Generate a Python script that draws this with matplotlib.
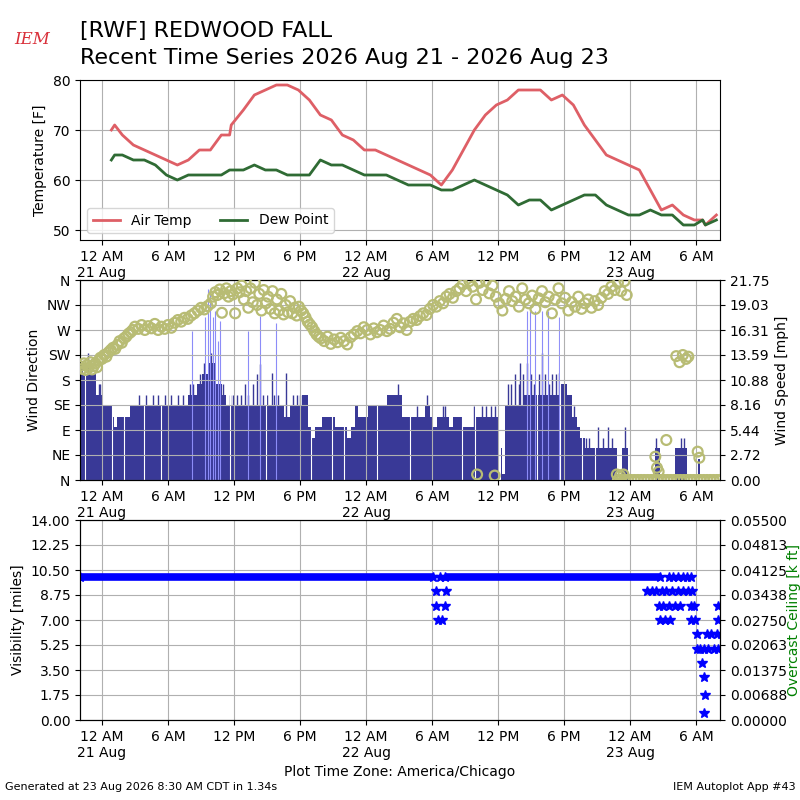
import numpy as np
import matplotlib
matplotlib.use("Agg")
import matplotlib.pyplot as plt
import matplotlib.dates as mdates
from matplotlib.ticker import FuncFormatter, FixedLocator
from datetime import datetime

# hours are counted from 21 Aug 2026 00:00 local time
start_day = datetime(2026, 8, 21)
x_first, x_last = -2.0, 56.18

# temperature / dew point (F)
temp_hours = [0.85, 1.15, 1.85, 2.85, 3.85, 4.85, 5.85, 6.85, 7.85, 8.85, 9.85, 10.85, 11.6, 11.75,
              12.85, 13.85, 14.85, 15.85, 16.85, 17.85, 18.85, 19.85, 20.85, 21.85, 22.85, 23.85,
              24.85, 25.85, 26.85, 27.85, 28.85, 29.85, 30.85, 31.85, 32.85, 33.85, 34.85, 35.85,
              36.85, 37.85, 38.85, 39.85, 40.85, 41.85, 42.85, 43.85, 44.85, 45.85, 46.85, 47.85,
              48.85, 49.85, 50.85, 51.85, 52.85, 53.85, 54.6, 54.85, 55.85]
air_temp = [70, 71, 69, 67, 66, 65, 64, 63, 64, 66, 66, 69, 69, 71,
            74, 77, 78, 79, 79, 78, 76, 73, 72, 69, 68, 66,
            66, 65, 64, 63, 62, 61, 59, 62, 66, 70, 73, 75,
            76, 78, 78, 78, 76, 77, 75, 71, 68, 65, 64, 63,
            62, 58, 54, 55, 53, 52, 52, 51, 53]
dew_point = [64, 65, 65, 64, 64, 63, 61, 60, 61, 61, 61, 61, 62, 62,
             62, 63, 62, 62, 61, 61, 61, 64, 63, 63, 62, 61,
             61, 61, 60, 59, 59, 59, 58, 58, 59, 60, 59, 58,
             57, 55, 56, 56, 54, 55, 56, 57, 57, 55, 54, 53,
             53, 54, 53, 53, 51, 51, 52, 51, 52]

# wind direction (deg)
dir_hours = [-2.0, -1.8, -1.65, -1.5, -1.35, -1.2, -1.05, -0.9, -0.75, -0.6, -0.45, -0.3, -0.15,
             0.0, 0.2, 0.4, 0.6, 0.8, 1.0, 1.2, 1.4, 1.6, 1.8, 2.0, 2.2, 2.4, 2.6, 2.8,
             3.0, 3.3, 3.6, 3.9, 4.2, 4.5, 4.8, 5.1, 5.4, 5.7, 6.0, 6.3,
             6.6, 6.9, 7.2, 7.5, 7.8, 8.1, 8.4, 8.7, 9.0, 9.3, 9.6, 9.9,
             10.1, 10.3, 10.5, 10.7, 10.9, 11.1, 11.3, 11.5, 11.7, 11.9, 12.1, 12.3, 12.5,
             12.7, 12.9, 13.1, 13.3, 13.5, 13.7, 13.9, 14.1, 14.3, 14.5, 14.7, 14.9, 15.1, 15.3,
             15.5, 15.7, 15.9, 16.1, 16.3, 16.5, 16.7, 16.9, 17.1, 17.3, 17.5, 17.7, 17.9,
             18.1, 18.3, 18.5, 18.7, 18.9, 19.1, 19.3, 19.5, 19.7,
             19.9, 20.2, 20.5, 20.8, 21.1, 21.4, 21.7, 22.0, 22.3, 22.6, 22.9,
             23.2, 23.5, 23.8, 24.1, 24.4, 24.7, 25.0, 25.3, 25.6, 25.9, 26.2, 26.5,
             26.8, 27.1, 27.4, 27.7, 28.0, 28.3, 28.6, 28.9, 29.2, 29.5,
             29.8, 30.1, 30.4, 30.7, 31.0, 31.3, 31.6, 31.9, 32.2,
             32.5, 32.8, 33.1, 33.4, 33.7, 34.0, 34.3, 34.6, 34.9, 35.2, 35.5, 34.1, 35.7,
             35.8, 36.1, 36.4, 36.7, 37.0, 37.3, 37.6, 37.9, 38.2, 38.5, 38.8, 39.1, 39.4,
             39.7, 40.0, 40.3, 40.6, 40.9, 41.2, 41.5, 41.8,
             42.1, 42.4, 42.7, 43.0, 43.3, 43.6, 43.9, 44.2, 44.5, 44.8, 45.1, 45.4,
             45.7, 46.0, 46.3, 46.6, 46.9, 47.2, 47.5, 47.7, 46.8, 47.1, 47.4,
             50.3, 50.45, 50.6, 51.3, 52.2, 52.5, 52.8, 53.1, 53.3, 54.15, 54.3]
dir_deg = [205, 200, 210, 198, 207, 202, 212, 199, 205, 210, 203, 215, 220,
           218, 225, 222, 230, 234, 238, 236, 243, 250, 247, 255, 258, 263, 266, 270,
           276, 272, 279, 270, 277, 273, 281, 270, 276, 272, 279, 274,
           283, 288, 285, 292, 290, 296, 300, 305, 310, 307, 313, 318,
           330, 338, 333, 343, 301, 336, 345, 330, 340, 334, 300, 345, 338,
           350, 325, 340, 310, 345, 320, 355, 315, 335, 305, 342, 318, 330, 308,
           340, 300, 325, 305, 335, 298, 315, 302, 322, 300, 310, 296, 312,
           305, 300, 293, 285, 280, 275, 268, 262, 258,
           255, 250, 258, 245, 253, 248, 256, 250, 244, 257, 262,
           268, 264, 275, 270, 262, 273, 266, 270, 278, 268, 272, 283,
           290, 275, 282, 270, 285, 290, 288, 295, 300, 297,
           308, 315, 312, 322, 318, 330, 335, 328, 340,
           345, 352, 340, 358, 348, 325, 355, 342, 359, 336, 350, 10, 8,
           330, 318, 305, 326, 340, 322, 330, 312, 345, 325, 318, 332, 308,
           327, 340, 320, 330, 300, 325, 345, 318,
           328, 305, 320, 312, 330, 308, 318, 325, 310, 322, 315, 328,
           340, 335, 348, 342, 355, 340, 358, 333, 10, 8, 10,
           42, 22, 15, 72, 223, 212, 225, 218, 222, 51, 40]
calm_hours = [46.9, 47.2, 47.5, 47.8, 48.1, 48.4, 48.7, 49.0, 49.3, 49.6, 49.9, 50.2, 50.5,
              50.8, 51.1, 51.4, 51.7, 52.0, 52.3, 52.6, 52.9, 53.2, 53.5, 53.8, 54.1, 54.4,
              54.7, 55.0, 55.3, 55.6, 55.9, 56.2]

# wind speed (mph), each value holds until the next start hour
speed_start = [-1.95, -1.7, -0.57, 0.0, 0.9, 1.1, 1.35, 2.5, 7.8, 8.6, 9.1, 9.6, 10.3, 10.9,
               11.3, 16.5, 17.1, 18.15, 18.7, 18.97, 19.4, 19.97, 21.2, 21.94, 22.3, 22.6,
               23.0, 23.3, 24.2, 25.9, 27.24, 29.36, 29.8, 30.06, 30.42, 31.5, 31.9, 32.7,
               33.9, 36.0, 36.25, 36.4, 36.6, 38.3, 41.2, 41.5, 42.3, 42.7, 43.15, 43.45,
               43.9, 46.8, 47.24, 47.8, 50.27, 50.7, 52.09, 53.15, 54.15, 54.36]
speed_mph = [12.7, 11.5, 9.2, 8.1, 6.9, 5.8, 6.9, 8.1, 9.2, 10.4, 11.5, 12.7, 10.4, 9.2,
             8.1, 6.9, 8.1, 9.2, 5.8, 4.6, 5.8, 6.9, 5.8, 5.8, 4.6, 5.8,
             8.1, 6.9, 8.1, 9.2, 6.9, 8.1, 6.9, 5.8, 6.9, 5.8, 6.9, 5.8,
             6.9, 0.0, 3.5, 0.6, 8.1, 9.2, 9.2, 10.4, 9.2, 6.9, 5.8, 4.6,
             3.5, 0.0, 3.5, 0.0, 3.5, 0.0, 3.5, 0.0, 2.3, 0.0]
spike_hours = [-1.3, -0.3, -0.15, 3.4, 4.0, 4.6, 5.1, 5.7, 6.3, 6.9, 7.4, 8.0, 8.3, 8.9, 9.3,
               9.9, 11.0, 11.6, 11.9, 12.3, 12.6, 13.0, 13.3, 13.7, 14.06, 14.36, 14.6, 15.0,
               15.42, 15.6, 16.0, 16.73, 17.4, 17.7, 18.0, 26.9, 28.6, 29.5, 31.0, 31.2, 33.8,
               34.5, 34.9, 35.4, 35.7, 36.9, 37.2, 37.5, 37.9, 38.0, 38.3, 38.6, 39.0, 39.3,
               39.7, 40.0, 40.3, 40.6, 40.9, 41.3, 41.5, 42.0, 42.9, 44.0, 44.3, 45.1, 45.5,
               46.0, 46.4, 47.5, 50.4, 52.6, 52.9]
spike_mph = [13.8, 10.4, 10.4, 9.2, 9.2, 9.2, 9.2, 9.2, 9.2, 9.2, 9.2, 10.4, 10.4, 11.5, 12.7,
             13.8, 10.4, 9.2, 9.2, 9.2, 9.2, 10.4, 9.2, 10.4, 11.5, 12.6, 9.2, 9.2,
             11.6, 9.2, 9.2, 11.6, 9.2, 9.2, 9.2, 10.4, 8.1, 9.2, 8.1, 8.1, 8.1,
             8.1, 8.1, 8.1, 8.1, 10.4, 10.4, 11.5, 10.4, 12.7, 11.5, 12.7, 11.5, 10.4,
             11.5, 13.8, 11.5, 10.4, 11.5, 11.5, 11.6, 10.4, 8.1, 4.6, 4.6, 5.8, 4.6,
             5.8, 4.6, 5.8, 4.6, 4.6, 4.6]
thin_hours = [8.15, 9.4, 9.6, 9.8, 10.1, 10.3, 10.5, 10.7, 13.3, 14.36, 15.79,
              38.6, 38.9, 39.35, 39.97, 40.5, 41.5]
thin_mph = [16.2, 17.7, 20.8, 20.8, 17.7, 18.4, 15.1, 17.3, 16.2, 17.8, 17.1,
            18.4, 18.4, 18.4, 18.4, 18.4, 17.7]
gap_hours = [-1.55, 0.88, 2.03, 3.85, 5.36, 11.6, 14.9, 19.0, 20.9, 22.0, 24.97, 28.0,
             32.7, 33.9, 39.5, 41.6, 43.6, 44.85]

# visibility (miles): steady runs, then single reports
vis_run_start = [-2.0, 31.2]
vis_run_end = [30.1, 50.7]
vis_run_value = [10.0, 10.0]
vis_hours = [30.7, 30.4, 31.3, 30.4, 31.2, 30.5, 30.9,
             51.5, 51.95, 52.4, 52.85, 53.2, 53.5,
             49.5, 49.97, 50.4, 50.9, 51.3, 51.8, 52.4, 52.85, 53.3, 53.6,
             50.6, 51.0, 51.5, 52.1, 52.5, 53.5, 53.8, 56.0,
             50.7, 51.2, 51.6, 53.5, 53.9, 56.0,
             54.1, 55.0, 55.4, 55.9, 56.3,
             54.1, 54.4, 54.7, 55.1, 55.6, 56.0,
             54.5, 54.75, 54.8, 54.75]
vis_miles = [10, 9, 9, 8, 8, 7, 7,
             10, 10, 10, 10, 10, 10,
             9, 9, 9, 9, 9, 9, 9, 9, 9, 9,
             8, 8, 8, 8, 8, 8, 8, 8,
             7, 7, 7, 7, 7, 7,
             6, 6, 6, 6, 6,
             5, 5, 5, 5, 5, 5,
             4, 3, 1.75, 0.5]

direction_labels = ["N", "NE", "E", "SE", "S", "SW", "W", "NW", "N"]


def tnum(hours):
    return mdates.date2num(start_day) + np.asarray(hours, dtype=float) / 24.0


def hour_label(x, pos):
    d = mdates.num2date(x + 1e-7)
    if d.hour == 0:
        return "12 AM\n" + d.strftime("%d %b")
    return d.strftime("%I %p").lstrip("0")


def setup_time_axis(ax):
    ax.set_xlim(tnum(x_first), tnum(x_last))
    ax.xaxis.set_major_locator(mdates.HourLocator(byhour=[0, 6, 12, 18]))
    ax.xaxis.set_major_formatter(FuncFormatter(hour_label))


fig = plt.figure(figsize=(8, 8), dpi=100)

# --- temperature panel
ax1 = fig.add_axes([0.1, 0.7, 0.8, 0.2])
ax1.plot(tnum(temp_hours), air_temp, color="#de5f66", lw=2, label="Air Temp")
ax1.plot(tnum(temp_hours), dew_point, color="#2f6b34", lw=2, label="Dew Point")
ax1.set_ylim(48, 80)
ax1.set_yticks([50, 60, 70, 80])
ax1.set_ylabel("Temperature [F]")
ax1.grid(True)
ax1.legend(loc="lower left", ncol=2)
setup_time_axis(ax1)

# --- wind panel
ax2 = fig.add_axes([0.1, 0.4, 0.8, 0.25])
ax2b = ax2.twinx()
ends = np.array(speed_start[1:] + [x_last + 0.05])
widths = (ends - np.array(speed_start)) / 24.0
ax2b.bar(tnum(speed_start), speed_mph, width=widths, align="edge",
         color="#393997", linewidth=0)
ax2b.vlines(tnum(spike_hours), 0, spike_mph, color="#393997", lw=1.0)
ax2b.vlines(tnum(thin_hours), 0, thin_mph, color="#8c8cf8", lw=0.8)
ax2b.vlines(tnum(gap_hours), 0, 21.75, color="white", lw=0.8, zorder=2.5)
ax2b.set_ylim(0, 21.75)
ax2b.yaxis.set_major_locator(FixedLocator(np.linspace(0, 21.75, 9)))
ax2b.yaxis.set_major_formatter(FuncFormatter(lambda v, p: "%.2f" % v))
ax2b.set_ylabel("Wind Speed [mph]")

ax2.scatter(tnum(dir_hours), dir_deg, s=50, facecolors="none",
            edgecolors="#b8bc74", linewidths=1.6, zorder=4)
ax2.scatter(tnum(calm_hours), np.zeros(len(calm_hours)), s=50, facecolors="none",
            edgecolors="#b8bc74", linewidths=1.6, zorder=4)
ax2.set_zorder(ax2b.get_zorder() + 1)
ax2.patch.set_visible(False)
ax2.set_ylim(0, 360)
ax2.set_yticks(np.arange(0, 361, 45))
ax2.set_yticklabels(direction_labels)
ax2.set_ylabel("Wind Direction")
ax2.grid(True)
setup_time_axis(ax2)

# --- visibility panel
ax3 = fig.add_axes([0.1, 0.1, 0.8, 0.25])
ax3.hlines(vis_run_value, tnum(vis_run_start), tnum(vis_run_end), color="blue", lw=5.5)
ax3.plot(tnum(vis_run_start + vis_run_end), vis_run_value * 2, "*", color="blue", ms=7, ls="none")
ax3.plot(tnum(vis_hours), vis_miles, "*", color="blue", ms=7, ls="none")
ax3.set_ylim(0, 14)
ax3.yaxis.set_major_locator(FixedLocator(np.linspace(0, 14, 9)))
ax3.yaxis.set_major_formatter(FuncFormatter(lambda v, p: "%.2f" % v))
ax3.set_ylabel("Visibility [miles]")
ax3.grid(True)
setup_time_axis(ax3)
ax3.set_xlabel("Plot Time Zone: America/Chicago")

ax3b = ax3.twinx()
ax3b.set_ylim(0, 0.055)
ax3b.yaxis.set_major_locator(FixedLocator(np.linspace(0, 0.055, 9)))
ax3b.yaxis.set_major_formatter(FuncFormatter(lambda v, p: "%.5f" % v))
ax3b.set_ylabel("Overcast Ceiling [k ft]", color="green", labelpad=0)

# --- header and footer
fig.text(0.1, 0.954, "[RWF] REDWOOD FALL", fontsize=16, va="baseline")
fig.text(0.1, 0.92, "Recent Time Series 2026 Aug 21 - 2026 Aug 23", fontsize=16, va="baseline")
fig.text(0.018, 0.945, "IEM", color="#d9303a", fontsize=12, fontstyle="italic",
         family="DejaVu Serif")
fig.text(0.006, 0.016, "Generated at 23 Aug 2026 8:30 AM CDT in 1.34s", fontsize=8, va="center")
fig.text(0.994, 0.016, "IEM Autoplot App #43", fontsize=8, ha="right", va="center")

plt.savefig("out.png", dpi=100)
